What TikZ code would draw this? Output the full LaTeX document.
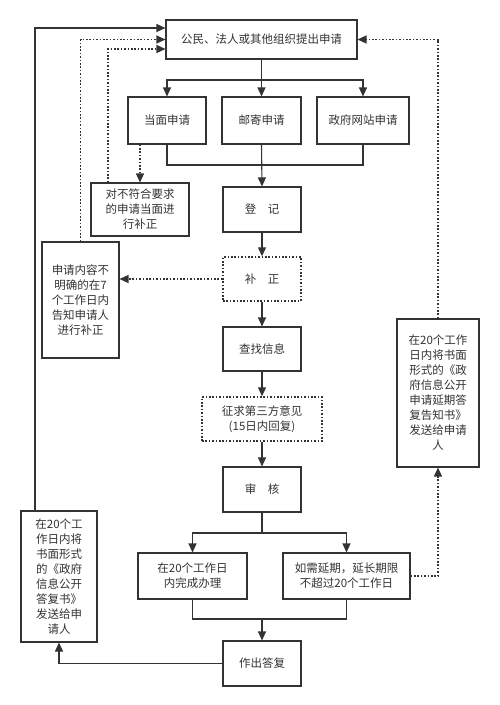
\documentclass[tikz,border=0pt]{standalone}
\usepackage{fontspec}
\newfontfamily\cjk{Noto Sans CJK SC}
\usetikzlibrary{arrows.meta,calc}
\definecolor{ink}{HTML}{333333}
\begin{document}
\begin{tikzpicture}[x=1pt,y=-1pt,
  box/.style={draw=ink,line width=1.1pt,fill=white,text=ink,align=center,inner sep=1pt,
    font=\cjk\fontsize{11.5}{15}\selectfont},
  dbox/.style={box,line width=1.4pt,dash pattern=on 1.6pt off 1.8pt},
  arr/.style={draw=ink,line width=1.1pt,-{Triangle[length=9pt,width=8pt]}},
  ln/.style={draw=ink,line width=1.1pt},
  darr/.style={arr,line width=1.4pt,dash pattern=on 1.6pt off 1.8pt}]
\useasboundingbox (0,0) rectangle (499,705);
\fill[white] (0,0) rectangle (499,705);
% nodes
\node[box,minimum width=191pt,minimum height=39pt] (top) at (261.5,39.5) {公民、法人或其他组织提出申请};
\node[box,minimum width=78pt,minimum height=47pt] (b1) at (167,120.5) {当面申请};
\node[box,minimum width=79pt,minimum height=47pt] (b2) at (261.5,120.5) {邮寄申请};
\node[box,minimum width=92pt,minimum height=47pt] (b3) at (363,120.5) {政府网站申请};
\node[box,minimum width=98pt,minimum height=53pt] (fix1) at (140,209.5) {对不符合要求\\的申请当面进\\行补正};
\node[box,minimum width=78pt,minimum height=45pt] (reg) at (262,209.5) {登　记};
\node[dbox,minimum width=78pt,minimum height=44pt] (bz) at (262,279) {补　正};
\node[box,minimum width=77pt,minimum height=116pt] (left1) at (80.5,300) {申请内容不\\明确的在7\\个工作日内\\告知申请人\\进行补正};
\node[box,minimum width=78pt,minimum height=44pt] (find) at (262,349) {查找信息};
\node[dbox,minimum width=120pt,minimum height=44pt] (third) at (262,419) {征求第三方意见\\(15日内回复)};
\node[box,minimum width=78pt,minimum height=45pt] (audit) at (262,489.5) {审　核};
\node[box,minimum width=109pt,minimum height=46pt] (done) at (192.5,576) {在20个工作日\\内完成办理};
\node[box,minimum width=127pt,minimum height=46pt] (ext) at (346.5,576) {如需延期，延长期限\\不超过20个工作日};
\node[box,minimum width=78pt,minimum height=45pt] (reply) at (262,663.5) {作出答复};
\node[box,minimum width=76pt,minimum height=131pt] (leftbot) at (59,576.5) {在20个工\\作日内将\\书面形式\\的《政府\\信息公开\\答复书》\\发送给申\\请人};
\node[box,minimum width=82pt,minimum height=148pt] (right) at (438,393) {在20个工作\\日内将书面\\形式的《政\\府信息公开\\申请延期答\\复告知书》\\发送给申请\\人};
% helper coordinates
\coordinate (bar1) at (0,80);
\coordinate (bar2) at (0,165);
\coordinate (bar3) at (0,533);
\coordinate (bar4) at (0,619);
\coordinate (lx) at (35,28);
\coordinate (dx) at (108,49);
% top split
\draw[arr] (top.south) -- (b2.north);
\draw[arr] (top.south |- bar1) -| (b1.north);
\draw[arr] (top.south |- bar1) -| (b3.north);
% merge
\draw[ln] (b1.south) |- (reg.north |- bar2);
\draw[ln] (b3.south) |- (reg.north |- bar2);
\draw[arr] (b2.south) -- (reg.north);
% main chain
\draw[arr] (reg.south) -- (bz.north);
\draw[arr] (bz.south) -- (find.north);
\draw[arr] (find.south) -- (third.north);
\draw[arr] (third.south) -- (audit.north);
% split after audit
\draw[ln] (audit.south) -- (audit.south |- bar3);
\draw[arr] (audit.south |- bar3) -| (done.north);
\draw[arr] (audit.south |- bar3) -| (ext.north);
% merge to reply
\draw[ln] (done.south) |- (reply.north |- bar4);
\draw[ln] (ext.south) |- (reply.north |- bar4);
\draw[arr] (reply.north |- bar4) -- (reply.north);
% reply to left bottom
\draw[arr] (reply.west) -| (leftbot.south);
\draw[arr] (lx |- leftbot.north) -- (lx) -- (lx -| top.west);
% dotted feedback
\draw[darr] (fix1.north |- b1.south) -- (fix1.north);
\draw[darr] (dx |- fix1.north) -- (dx) -- (dx -| top.west);
\draw[darr] (left1.north) |- (top.west);
\draw[darr] (bz.west) -- (bz.west -| left1.east);
\draw[darr] (ext.east) -| (right.south);
\draw[darr] (right.north) |- (top.east);
\end{tikzpicture}
\end{document}
